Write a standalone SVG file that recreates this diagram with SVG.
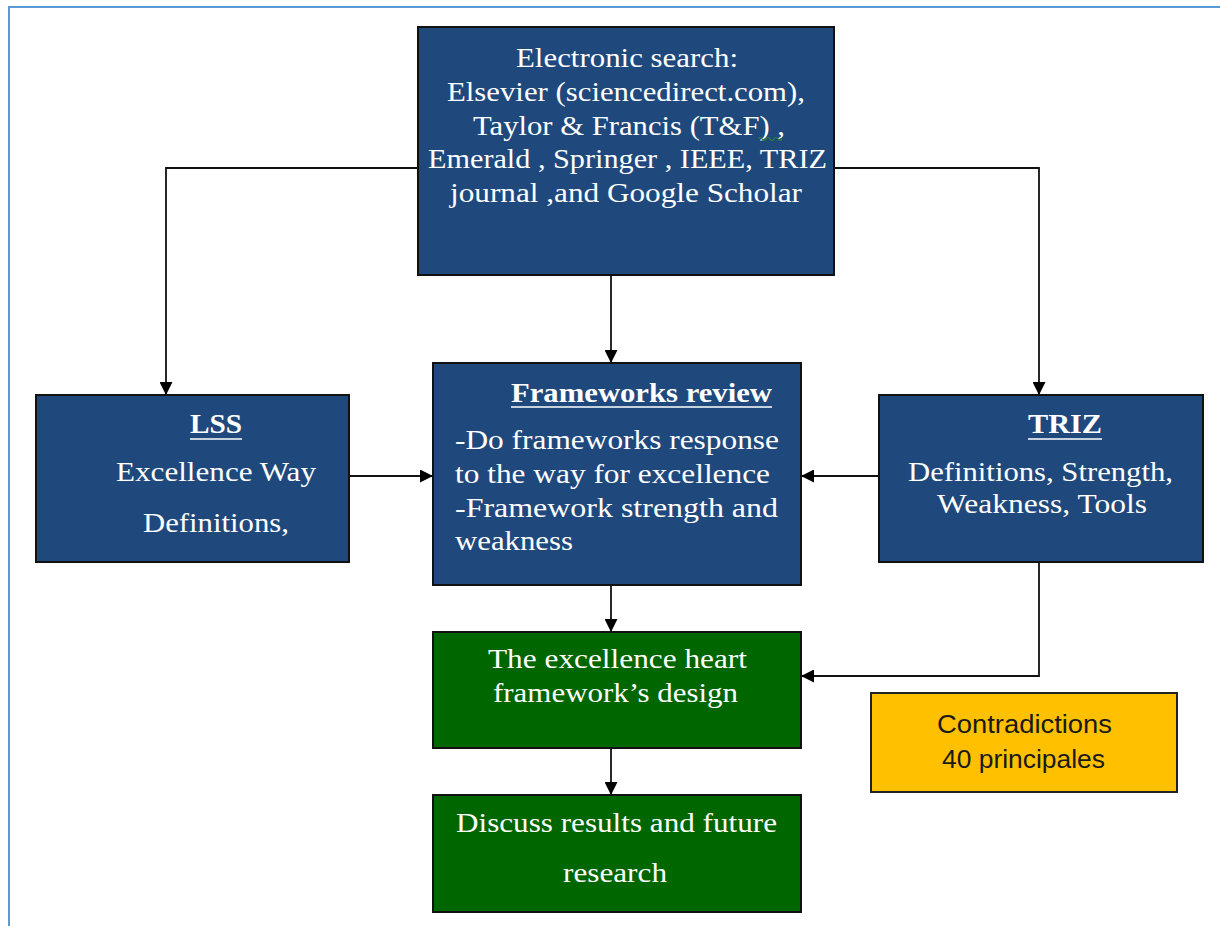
<svg xmlns="http://www.w3.org/2000/svg" width="1220" height="926" viewBox="0 0 1220 926">
<style>
.blue{fill:#1F497D;stroke:#111;stroke-width:2}
.green{fill:#006600;stroke:#111;stroke-width:2}
.yellow{fill:#FFC000;stroke:#222;stroke-width:2}
.t{font-family:"Liberation Serif","Times New Roman",serif;font-size:28px;fill:#fff}
.b{font-weight:bold}
.s{font-family:"Liberation Sans",Arial,sans-serif;font-size:26px;fill:#1a1a1a}
.ul{stroke:#fff;stroke-width:1.6}
.c{fill:none;stroke:#111;stroke-width:1.8}
</style>
<defs>
<marker id="ah" viewBox="0 0 13 13" refX="13" refY="6.5" markerWidth="13" markerHeight="13" markerUnits="userSpaceOnUse" orient="auto">
<path d="M0,0 L13,6.5 L0,13 Z" fill="#000"/>
</marker>
</defs>
<rect width="1220" height="926" fill="#fff"/>
<path d="M9,926 V7 H1220" fill="none" stroke="#5B9BD5" stroke-width="2"/>

<g id="connectors">
<path class="c" d="M418,168 H166 V395" marker-end="url(#ah)"/>
<path class="c" d="M834,168 H1039 V395" marker-end="url(#ah)"/>
<path class="c" d="M611,275 V363" marker-end="url(#ah)"/>
<path class="c" d="M349,476 H433" marker-end="url(#ah)"/>
<path class="c" d="M879,476 H801" marker-end="url(#ah)"/>
<path class="c" d="M611,585 V632" marker-end="url(#ah)"/>
<path class="c" d="M1039,562 V676 H801" marker-end="url(#ah)"/>
<path class="c" d="M611,748 V795" marker-end="url(#ah)"/>
</g>

<g id="search">
<rect class="blue" x="418" y="27" width="416" height="248"/>
<text class="t" x="516" y="67" textLength="222" lengthAdjust="spacingAndGlyphs">Electronic search:</text>
<text class="t" x="447" y="101" textLength="358" lengthAdjust="spacingAndGlyphs">Elsevier (sciencedirect.com),</text>
<text class="t" x="473" y="135" textLength="312" lengthAdjust="spacingAndGlyphs">Taylor &amp; Francis (T&amp;F) ,</text>
<path d="M758,139 q2,-3 4,0 t4,0 t4,0 t4,0 t4,0 t4,0" fill="none" stroke="#2E8B2E" stroke-width="1.2"/>
<text class="t" x="428" y="168" textLength="399" lengthAdjust="spacingAndGlyphs">Emerald , Springer , IEEE, TRIZ</text>
<text class="t" x="450" y="202" textLength="352" lengthAdjust="spacingAndGlyphs">journal ,and Google Scholar</text>
</g>

<g id="lss">
<rect class="blue" x="36" y="395" width="313" height="167"/>
<text class="t b" x="190" y="433" textLength="52" lengthAdjust="spacingAndGlyphs">LSS</text>
<line class="ul" x1="190" y1="439" x2="242" y2="439"/>
<text class="t" x="116" y="481" textLength="200" lengthAdjust="spacingAndGlyphs">Excellence Way</text>
<text class="t" x="143" y="532" textLength="146" lengthAdjust="spacingAndGlyphs">Definitions,</text>
</g>

<g id="frameworks">
<rect class="blue" x="433" y="363" width="368" height="222"/>
<text class="t b" x="511" y="402" textLength="261" lengthAdjust="spacingAndGlyphs">Frameworks review</text>
<line class="ul" x1="511" y1="407" x2="772" y2="407"/>
<text class="t" x="455" y="449" textLength="324" lengthAdjust="spacingAndGlyphs">-Do frameworks response</text>
<text class="t" x="455" y="483" textLength="315" lengthAdjust="spacingAndGlyphs">to the way for excellence</text>
<text class="t" x="455" y="517" textLength="323" lengthAdjust="spacingAndGlyphs">-Framework strength and</text>
<text class="t" x="455" y="550" textLength="118" lengthAdjust="spacingAndGlyphs">weakness</text>
</g>

<g id="triz">
<rect class="blue" x="879" y="395" width="324" height="167"/>
<text class="t b" x="1028" y="433" textLength="74" lengthAdjust="spacingAndGlyphs">TRIZ</text>
<line class="ul" x1="1028" y1="439" x2="1102" y2="439"/>
<text class="t" x="908" y="481" textLength="265" lengthAdjust="spacingAndGlyphs">Definitions, Strength,</text>
<text class="t" x="937" y="513" textLength="210" lengthAdjust="spacingAndGlyphs">Weakness, Tools</text>
</g>

<g id="design">
<rect class="green" x="433" y="632" width="368" height="116"/>
<text class="t" x="488" y="668" textLength="259" lengthAdjust="spacingAndGlyphs">The excellence heart</text>
<text class="t" x="493" y="702" textLength="245" lengthAdjust="spacingAndGlyphs">framework’s design</text>
</g>

<g id="discuss">
<rect class="green" x="433" y="795" width="368" height="117"/>
<text class="t" x="456" y="832" textLength="321" lengthAdjust="spacingAndGlyphs">Discuss results and future</text>
<text class="t" x="563" y="882" textLength="104" lengthAdjust="spacingAndGlyphs">research</text>
</g>

<g id="contradictions">
<rect class="yellow" x="871" y="693" width="306" height="99"/>
<text class="s" x="937" y="733" textLength="175" lengthAdjust="spacingAndGlyphs">Contradictions</text>
<text class="s" x="942" y="768" textLength="163" lengthAdjust="spacingAndGlyphs">40 principales</text>
</g>
</svg>
